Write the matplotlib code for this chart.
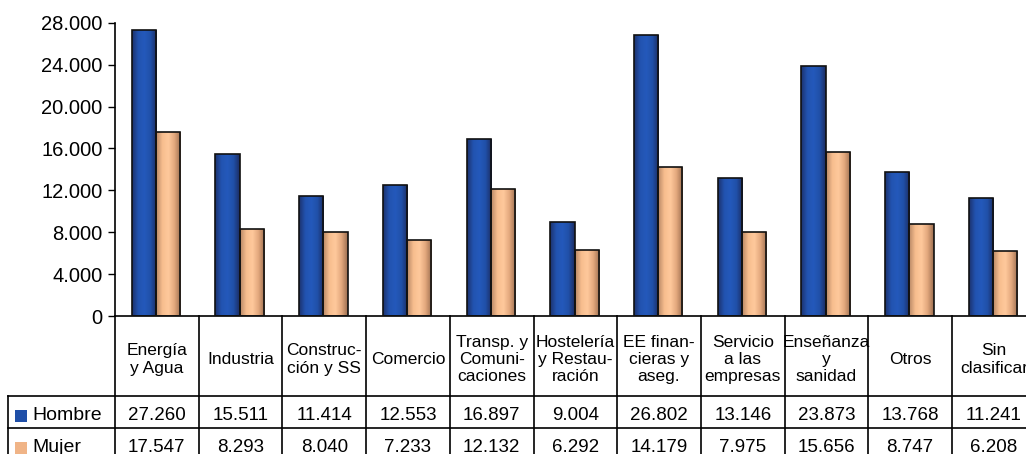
import numpy as np
import matplotlib
matplotlib.use("Agg")
import matplotlib.pyplot as plt
from matplotlib.colors import LinearSegmentedColormap
from matplotlib.ticker import FuncFormatter

plt.rcParams["font.family"] = "Liberation Sans"

categorias = ["Energía\ny Agua", "Industria", "Construc-\nción y SS", "Comercio",
              "Transp. y\nComuni-\ncaciones", "Hostelería\ny Restau-\nración",
              "EE finan-\ncieras y\naseg.", "Servicio\na las\nempresas",
              "Enseñanza\ny\nsanidad", "Otros", "Sin\nclasificar"]
hombre = [27260, 15511, 11414, 12553, 16897, 9004, 26802, 13146, 23873, 13768, 11241]
mujer = [17547, 8293, 8040, 7233, 12132, 6292, 14179, 7975, 15656, 8747, 6208]
series = ["Hombre", "Mujer"]

BLUE_CM = LinearSegmentedColormap.from_list(
    "b", ["#1c336e", "#2253b0", "#2459bb", "#2050a8", "#1c2c62"])
ORANGE_CM = LinearSegmentedColormap.from_list(
    "o", ["#b88866", "#f7bd8e", "#ffc99c", "#e2a77c", "#9c6e50"])
BLUE = "#1f4fa8"
ORANGE = "#f0b487"


def num(v):
    return f"{v:,}".replace(",", ".")


def gradient_bars(ax, bars, cmap):
    grad = np.linspace(0, 1, 64).reshape(1, -1)
    for b in bars:
        x, y = b.get_xy()
        w, h = b.get_width(), b.get_height()
        im = ax.imshow(grad, extent=[x, x + w, y, y + h], aspect="auto",
                       cmap=cmap, zorder=2, interpolation="bilinear")
        im.set_clip_path(b)
        b.set_facecolor("none")


fig = plt.figure(figsize=(10.26, 4.54), dpi=100)
ax = fig.add_axes([115 / 1026, 138 / 454, 920.7 / 1026, 293.3 / 454])

x = np.arange(len(categorias))
w = 0.29
b1 = ax.bar(x - w / 2 - 0.01, hombre, w, edgecolor="#111111", linewidth=1.2, zorder=3)
b2 = ax.bar(x + w / 2 - 0.01, mujer, w, edgecolor="#111111", linewidth=1.2, zorder=3)
gradient_bars(ax, b1, BLUE_CM)
gradient_bars(ax, b2, ORANGE_CM)

ax.set_xlim(-0.5, len(categorias) - 0.5)
ax.set_ylim(0, 28000)
ax.set_yticks(np.arange(0, 28001, 4000))
ax.yaxis.set_major_formatter(FuncFormatter(lambda v, p: num(int(v))))
ax.tick_params(axis="y", labelsize=14.5, length=5, width=1, direction="out", pad=4)
ax.set_xticks([])
for s in ["top", "right"]:
    ax.spines[s].set_visible(False)
ax.spines["left"].set_linewidth(1.2)
ax.spines["bottom"].set_linewidth(1.2)

# tabla de datos bajo el grafico
tr = ax.get_xaxis_transform()
y_head = -80 / 293.3
y_h = -112 / 293.3
y_m = -144 / 293.3
x_left = -0.5 - 107 / 83.7
n = len(categorias)
lk = dict(color="black", lw=1.2, transform=tr, clip_on=False)
for i in range(n + 1):
    ax.plot([i - 0.5, i - 0.5], [0, y_m], **lk)
for yy in [y_head, y_h]:
    ax.plot([x_left, n - 0.5], [yy, yy], **lk)
ax.plot([x_left, x_left], [y_head, y_m], **lk)

for i, c in enumerate(categorias):
    ax.text(i, y_head / 2 - 0.012, c, transform=tr, ha="center", va="center",
            fontsize=12.5, linespacing=1.2, clip_on=False)
    ax.text(i, (y_head + y_h) / 2 - 0.012, num(hombre[i]), transform=tr,
            ha="center", va="center", fontsize=13.5, clip_on=False)
    ax.text(i, (y_h + y_m) / 2 - 0.012, num(mujer[i]), transform=tr,
            ha="center", va="center", fontsize=13.5, clip_on=False)

for yy0, yy1, lab, col in [(y_head, y_h, series[0], BLUE), (y_h, y_m, series[1], ORANGE)]:
    yc = (yy0 + yy1) / 2 - 0.012
    ax.plot([x_left + 0.16], [yc], marker="s", ms=8, color=col,
            transform=tr, clip_on=False, markeredgewidth=0)
    ax.text(x_left + 0.29, yc, lab, transform=tr, ha="left", va="center",
            fontsize=14, clip_on=False)

fig.savefig("out.png", dpi=100)
